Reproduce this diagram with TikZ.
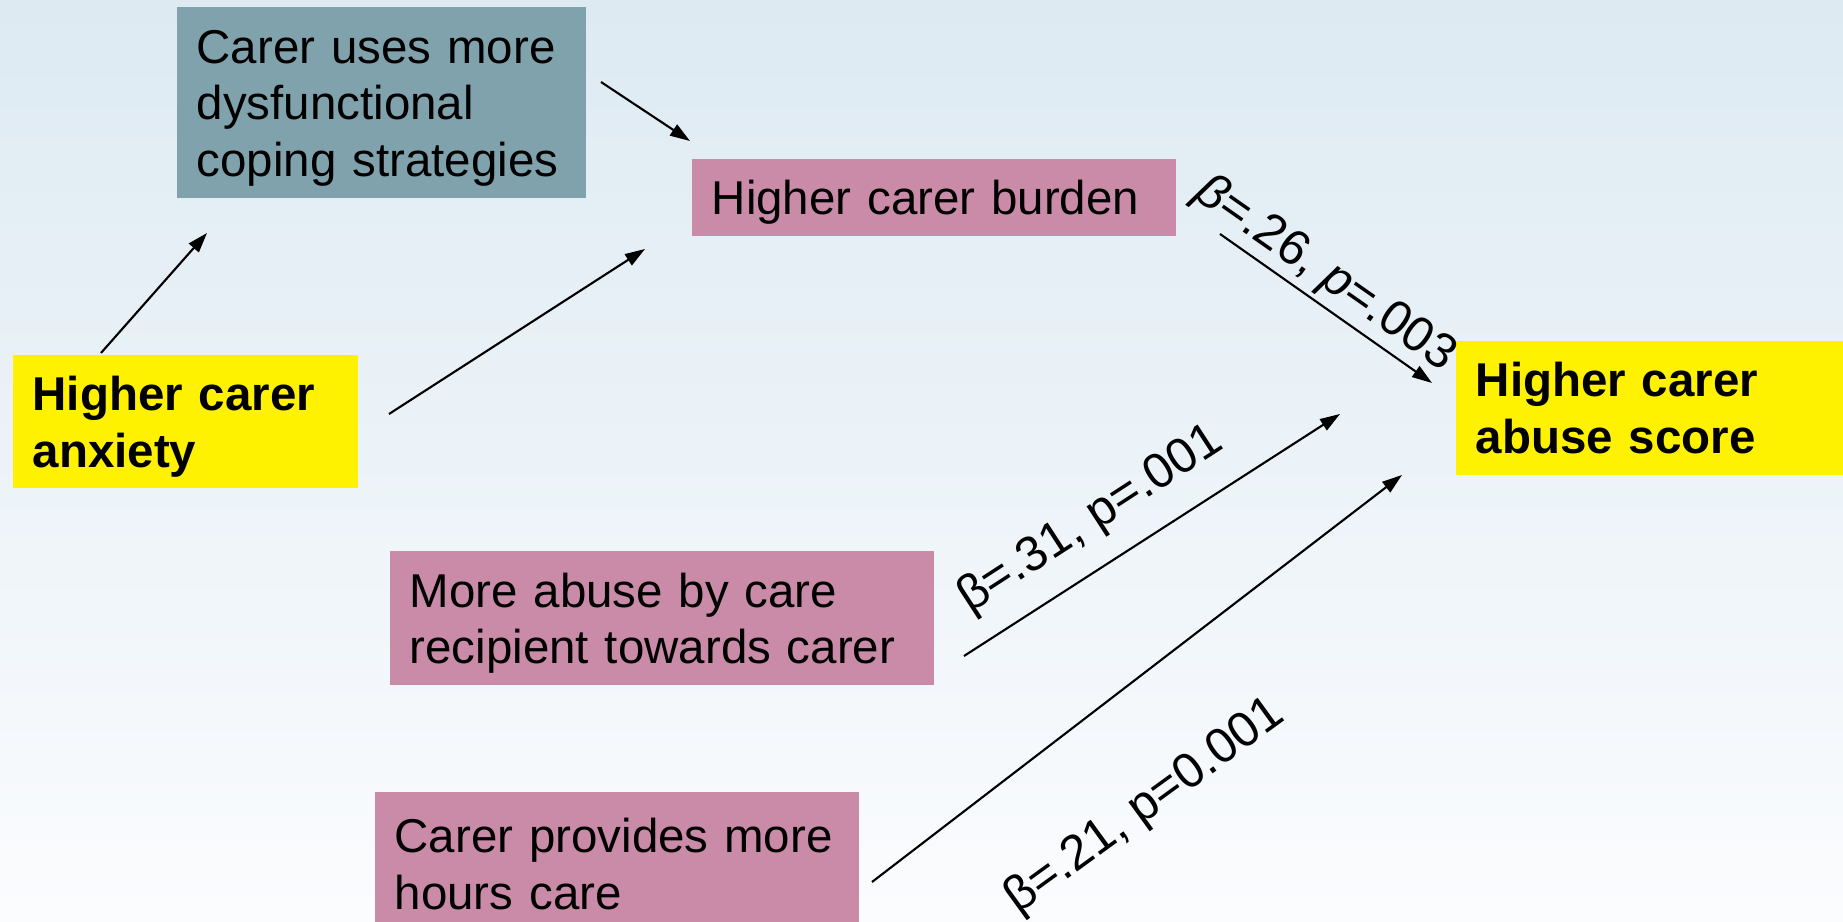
\documentclass[tikz,border=0pt]{standalone}
\usepackage{fontspec}
\setmainfont{Liberation Sans}
\usetikzlibrary{arrows.meta}

\definecolor{bgtop}{RGB}{221,234,242}
\definecolor{bgbot}{RGB}{251,252,254}
\definecolor{copecol}{RGB}{127,162,172}
\definecolor{pinkcol}{RGB}{201,139,168}

\tikzset{
  box/.style={anchor=north west, inner xsep=0.2cm, inner ysep=0pt, align=left,
    font=\fontsize{13.5}{16}\selectfont},
  low/.style={execute at begin node={\rule{0pt}{0.45cm}}},
  conn/.style={-{Triangle[length=0.2cm,width=0.13cm]}, line width=0.6pt},
  coef/.style={inner sep=0pt, font=\fontsize{14}{16}\selectfont}
}

\begin{document}
\begin{tikzpicture}[x=0.01cm,y=-0.01cm]
\useasboundingbox (0,0) rectangle (1843,922);
\clip (0,0) rectangle (1843,922);
\shade[top color=bgtop, bottom color=bgbot] (0,0) rectangle (1843,922);

% boxes
\node[box, low, fill=copecol, text width=3.69cm, minimum height=1.91cm] (cope) at (176,6)
  {Carer uses more\\dysfunctional\\coping strategies};
\node[box, low, fill=pinkcol, text width=4.44cm, minimum height=0.77cm] (burden) at (691,158)
  {Higher carer burden};
\node[box, low, fill=yellow, text width=3.05cm, minimum height=1.33cm, font=\fontsize{13.5}{16.3}\selectfont\bfseries] (anx) at (12,354)
  {Higher carer\\anxiety};
\node[box, fill=yellow, text width=3.60cm, minimum height=1.34cm, font=\fontsize{13.5}{16.3}\selectfont\bfseries] (score) at (1455,340)
  {Higher carer\\abuse score};
\node[box, low, fill=pinkcol, text width=5.04cm, minimum height=1.34cm] (recip) at (389,550)
  {More abuse by care\\recipient towards carer};
\node[box, low, fill=pinkcol, text width=4.44cm, minimum height=1.34cm] (hours) at (374,791)
  {Carer provides more\\hours care};

% arrow ends
\coordinate (A1) at (101,353);  \coordinate (B1) at (207,233);
\coordinate (A2) at (389,414);  \coordinate (B2) at (645,249);
\coordinate (A3) at (601,82);   \coordinate (B3) at (690,141);
\coordinate (A4) at (1220,234); \coordinate (B4) at (1432,383);
\coordinate (A5) at (964,656);  \coordinate (B5) at (1340,414);
\coordinate (A6) at (872,882);  \coordinate (B6) at (1402,475);

\draw[conn] (A1)--(B1);
\draw[conn] (A2)--(B2);
\draw[conn] (A3)--(B3);
\draw[conn] (A4)--(B4);
\draw[conn] (A5)--(B5);
\draw[conn] (A6)--(B6);

% coefficients
\node[coef, rotate=-35] (c26) at (1325,274) {\textit{β}=.26, \textit{p}=.003};
\node[coef, rotate=33] (c31) at (1091,520) {β=.31, p=.001};
\node[coef, rotate=36] (c21) at (1145,807) {β=.21, p=0.001};
\end{tikzpicture}
\end{document}
